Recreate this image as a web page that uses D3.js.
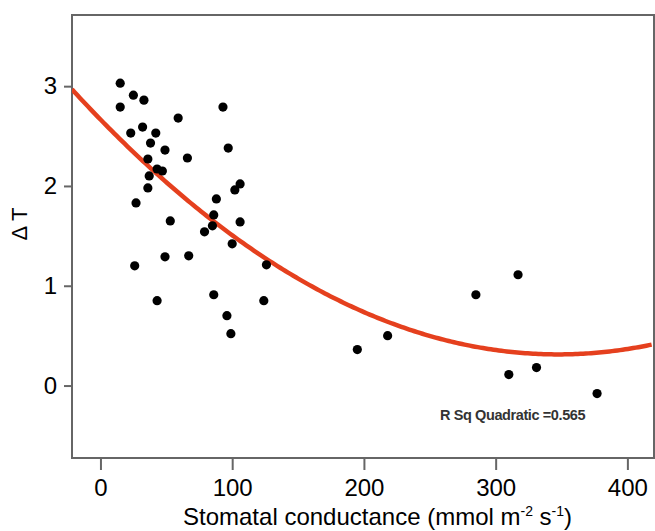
<!DOCTYPE html>
<html>
<head>
<meta charset="utf-8">
<script src="https://cdn.jsdelivr.net/npm/d3@7"></script>
<style>
  body { margin: 0; background: #fff; }
  svg { display: block; font-family: "Liberation Sans", Arial, sans-serif; }
</style>
</head>
<body>
<svg id="chart" width="655" height="531"></svg>
<script>
// stomatal conductance (mmol m-2 s-1) vs delta T
const conductance = [15, 15, 25, 33, 59, 93, 23, 32, 42, 38, 49, 66, 97, 36, 43, 47, 37, 36, 27, 53,
  88, 102, 106, 86, 85, 79, 106, 100, 49, 67, 26, 126, 43, 86, 96, 99, 124, 195, 218, 285, 317, 310, 331, 377];
const deltaT = [3.03, 2.79, 2.91, 2.86, 2.68, 2.79, 2.53, 2.59, 2.53, 2.43, 2.36, 2.28, 2.38, 2.27, 2.17, 2.15, 2.10, 1.98, 1.83, 1.65,
  1.87, 1.96, 2.02, 1.71, 1.60, 1.54, 1.64, 1.42, 1.29, 1.30, 1.20, 1.21, 0.85, 0.91, 0.70, 0.52, 0.85, 0.36, 0.50, 0.91, 1.11, 0.11, 0.18, -0.08];

// quadratic fit: c0 + c1*x + c2*x^2
const fitCoef = [2.666, -0.01355, 0.0000195];
const fitLabel = "R Sq Quadratic =0.565";

const xTicks = [0, 100, 200, 300, 400];
const yTicks = [0, 1, 2, 3];

const width = 655, height = 531;
const margin = { left: 72, top: 15, right: 1, bottom: 73 };

const svg = d3.select("#chart");

const x = d3.scaleLinear()
  .domain([-21.6, 420.2])
  .range([margin.left, width - margin.right]);

const y = d3.scaleLinear()
  .domain([-0.726, 3.713])
  .range([height - margin.bottom, margin.top]);

const axisColor = "#666";

svg.append("defs").append("clipPath")
  .attr("id", "plot-clip")
  .append("rect")
  .attr("x", margin.left)
  .attr("y", margin.top)
  .attr("width", width - margin.right - margin.left)
  .attr("height", height - margin.bottom - margin.top);

// frame
svg.append("rect")
  .attr("x", margin.left)
  .attr("y", margin.top)
  .attr("width", width - margin.right - margin.left)
  .attr("height", height - margin.bottom - margin.top)
  .attr("fill", "none")
  .attr("stroke", axisColor)
  .attr("stroke-width", 2);

const xAxis = d3.axisBottom(x)
  .tickValues(xTicks)
  .tickFormat(d3.format("d"))
  .tickSizeInner(12)
  .tickSizeOuter(0)
  .tickPadding(9);

const yAxis = d3.axisLeft(y)
  .tickValues(yTicks)
  .tickFormat(d3.format("d"))
  .tickSizeInner(8)
  .tickSizeOuter(0)
  .tickPadding(7);

svg.append("g")
  .attr("class", "x axis")
  .attr("transform", "translate(0," + (height - margin.bottom) + ")")
  .call(xAxis);

svg.append("g")
  .attr("class", "y axis")
  .attr("transform", "translate(" + margin.left + ",0)")
  .call(yAxis);

svg.selectAll(".axis .domain").remove();
svg.selectAll(".axis .tick line")
  .attr("stroke", axisColor)
  .attr("stroke-width", 2);
svg.selectAll(".axis text")
  .attr("fill", "#000")
  .style("font-size", "24px")
  .style("font-family", "Liberation Sans, Arial, sans-serif");

// fit curve
const curveData = d3.range(-21.6, 420.3, 2).map(v => [v, fitCoef[0] + fitCoef[1] * v + fitCoef[2] * v * v]);

svg.append("path")
  .datum(curveData)
  .attr("clip-path", "url(#plot-clip)")
  .attr("fill", "none")
  .attr("stroke", "#e5401e")
  .attr("stroke-width", 4.5)
  .attr("d", d3.line().x(d => x(d[0])).y(d => y(d[1])));

// points
svg.append("g")
  .attr("class", "points")
  .selectAll("circle")
  .data(conductance)
  .enter()
  .append("circle")
  .attr("cx", d => x(d))
  .attr("cy", (d, i) => y(deltaT[i]))
  .attr("r", 4.6)
  .attr("fill", "#000");

// r-squared note
svg.append("text")
  .attr("x", 440)
  .attr("y", 420)
  .attr("fill", "#333")
  .style("font-size", "14.5px")
  .style("font-weight", "bold")
  .style("letter-spacing", "-0.4px")
  .text(fitLabel);

// axis titles
const xTitle = svg.append("text")
  .attr("x", 183)
  .attr("y", 525)
  .attr("fill", "#000")
  .style("font-size", "24px");
xTitle.append("tspan").text("Stomatal conductance (mmol m");
xTitle.append("tspan").attr("dy", -9).style("font-size", "14px").text("-2");
xTitle.append("tspan").attr("dy", 9).text(" s");
xTitle.append("tspan").attr("dy", -9).style("font-size", "14px").text("-1");
xTitle.append("tspan").attr("dy", 9).text(")");

svg.append("text")
  .attr("transform", "translate(27,224) rotate(-90)")
  .attr("text-anchor", "middle")
  .attr("fill", "#000")
  .style("font-size", "22px")
  .text("\u0394 T");
</script>
</body>
</html>
